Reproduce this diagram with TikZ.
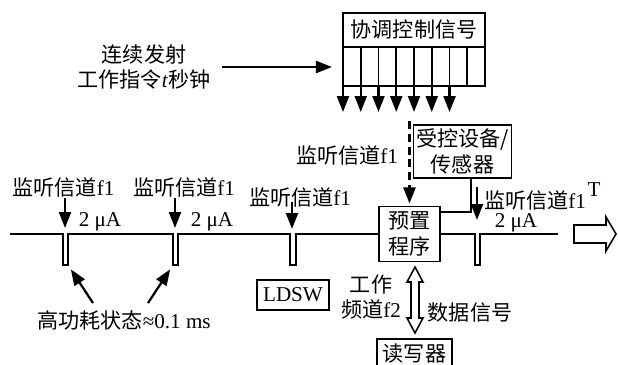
\documentclass[tikz,border=0pt]{standalone}
\usepackage{fontspec}
\setmainfont{Liberation Serif}
\newfontfamily\cjk{Noto Sans CJK SC}
\newcommand{\cn}[1]{{\cjk #1}}
\usetikzlibrary{positioning,arrows.meta}

\begin{document}
\begin{tikzpicture}[x=0.025cm,y=-0.025cm,
  font=\fontsize{15}{18}\selectfont,
  box/.style={draw,line width=1.1pt,outer sep=0pt,inner sep=2pt,align=center},
  lbl/.style={inner sep=1pt,align=center},
  arr/.style={-{Triangle[length=4mm,width=3mm]},line width=1.6pt},
  wave/.style={line width=1.2pt},
  hollow/.style={draw,line width=1.1pt,fill=white}]
\useasboundingbox (0,0) rectangle (618,364);

% control signal block
\node[box,minimum width=3.55cm,minimum height=0.85cm] (ctrl) at (414,30) {\cn{协调控制信号}};
\node[box,minimum width=3.55cm,minimum height=0.975cm,below=0pt of ctrl] (slots) {};
\foreach \i in {1,...,7}
  \draw[line width=1.1pt] ([xshift=\i*0.44375cm]slots.north west) -- ([xshift=\i*0.44375cm]slots.south west);
\foreach \i in {0,...,6}
  \draw[arr] ([xshift=\i*0.44375cm]slots.south west) -- ++(0,26);

\node[lbl] (cmd) at (144,67) {\cn{连续发射}\\\cn{工作指令}\textit{t}\cn{秒钟}};
\draw[arr,shorten <=0.25cm,shorten >=0.275cm] (cmd.east) -- (cmd.east -| slots.west);

% preset program and device
\node[box,minimum width=1.525cm,minimum height=1.375cm] (pre) at (409.5,234) {\cn{预置}\\\cn{程序}};
\node[box,minimum width=2.025cm,minimum height=1.325cm] (dev) at (462.5,151.5) {\cn{受控设备/}\\\cn{传感器}};
\draw[line width=1.1pt] ([xshift=0.2125cm]dev.south) |- ([yshift=-0.1375cm]pre.north east);

\coordinate (dtop) at (409.5,121);
\node[lbl] (m0) at (347,155) {\cn{监听信道}f1};
\draw[arr,dash pattern=on 2mm off 1.2mm,shorten >=0.075cm] (dtop) -- (pre.north);

% wake-up waveform
\coordinate (wbeg) at (10,234);
\coordinate (p1) at (63,234);
\coordinate (p2) at (173,234);
\coordinate (p3) at (290,234);
\coordinate (p4) at (475,234);
\coordinate (wend) at (558,234);
\draw[wave] (wbeg) -- (p1) -- ++(0,31) -- ++(5,0) |- (p2) -- ++(0,31) -- ++(5,0) |- (p3) -- ++(0,31) -- ++(6,0) |- (pre.west);
\draw[wave] (pre.east) -- (p4) -- ++(0,31) -- ++(5,0) |- (wend);
\draw[hollow] (574,225) -- (606,225) -- (606,217) -- (616,234) -- (606,251) -- (606,243) -- (574,243) -- cycle;

\node[lbl] (l1) at (63.5,187) {\cn{监听信道}f1};
\node[lbl] (l2) at (184,187) {\cn{监听信道}f1};
\node[lbl] (l3) at (300,197) {\cn{监听信道}f1};
\node[lbl] (l4) at (535,200) {\cn{监听信道}f1};
\node[lbl] (tper) at (594,190) {T};
\coordinate (t1) at (65,234);
\coordinate (t2) at (175,234);
\coordinate (t3) at (292,234);
\coordinate (t4) at (477,234);
\coordinate (s3) at (292,202);
\coordinate (s4) at (477,187);
\draw[arr,shorten >=0.15cm] (l1.south -| t1) -- (t1);
\draw[arr,shorten >=0.15cm] (l2.south -| t2) -- (t2);
\draw[arr,shorten >=0.125cm] (s3) -- (t3);
\draw[arr,shorten >=0.35cm] (s4) -- (t4);

\node[lbl] (u1) at (100,222) {2 μA};
\node[lbl] (u2) at (212,222) {2 μA};
\node[lbl] (u3) at (516,223) {2 μA};

% high power state
\node[lbl] (hp) at (124,320) {\cn{高功耗状态}≈0.1 ms};
\coordinate (h1) at (93,303);
\coordinate (h2) at (148,303);
\coordinate (b1) at (68,265);
\coordinate (b2) at (173,265);
\draw[arr,shorten >=0.13cm] (h1) -- (b1);
\draw[arr,shorten >=0.13cm] (h2) -- (b2);

\node[box,minimum width=1.8cm,minimum height=0.75cm] (ldsw) at (293,295) {LDSW};

% reader link
\node[lbl] (wk) at (371,297) {\cn{工作}\\\cn{频道}f2};
\node[lbl] (data) at (470,312) {\cn{数据信号}};
\node[box,minimum width=1.875cm,minimum height=0.725cm] (rw) at (414.5,353.5) {\cn{读写器}};
\draw[hollow] (415,267) -- (423,282) -- (419,282) -- (419,318) -- (423,318) -- (415,333) -- (407,318) -- (411,318) -- (411,282) -- (407,282) -- cycle;
\end{tikzpicture}
\end{document}
